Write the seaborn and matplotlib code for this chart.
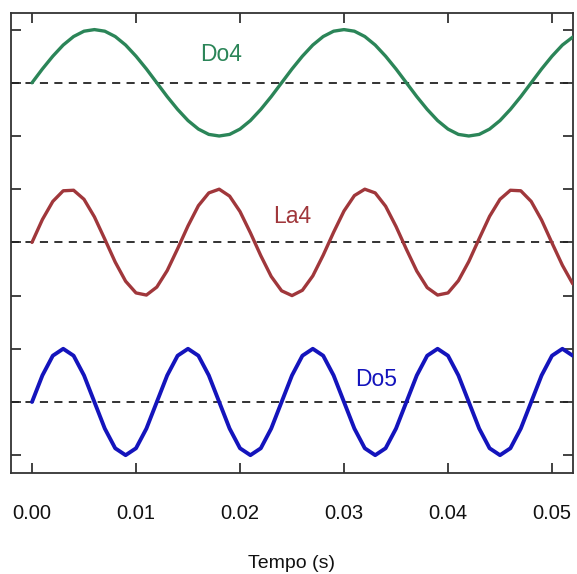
import numpy as np
import pandas as pd
import matplotlib
matplotlib.use("Agg")
import matplotlib.pyplot as plt
import seaborn as sns

# ---- data ----
notes = ["Do4", "La4", "Do5"]
offsets = [6, 3, 0]
time_s = np.linspace(0.0, 0.052, 53)  # sample times (1 ms step)

do4 = [0, .26, .5, .71, .87, .97, 1, .97, .87, .71, .5, .26,
       0, -.26, -.5, -.71, -.87, -.97, -1, -.97, -.87, -.71, -.5, -.26,
       0, .26, .5, .71, .87, .97, 1, .97, .87, .71, .5, .26,
       0, -.26, -.5, -.71, -.87, -.97, -1, -.97, -.87, -.71, -.5, -.26,
       0, .26, .5, .71, .86]
la4 = [0, .43, .77, .97, .98, .81, .48, .06, -.37, -.73, -.95, -.99, -.84,
       -.53, -.12, .31, .69, .93, 1.0, .87, .58, .18, -.25, -.64, -.91, -1.0,
       -.90, -.63, -.24, .19, .59, .88, 1.0, .93, .68, .30, -.13, -.54, -.85,
       -.99, -.95, -.72, -.36, .07, .49, .81, .98, .97, .77, .42, -.01, -.43, -.78]
do5 = [0, .5, .87, 1, .87, .5, 0, -.5, -.87, -1, -.87, -.5,
       0, .5, .87, 1, .87, .5, 0, -.5, -.87, -1, -.87, -.5,
       0, .5, .87, 1, .87, .5, 0, -.5, -.87, -1, -.87, -.5,
       0, .5, .87, 1, .87, .5, 0, -.5, -.87, -1, -.87, -.5,
       0, .5, .87, 1, .87]
xticks = [0.00, 0.01, 0.02, 0.03, 0.04, 0.05]
xlabel = "Tempo (s)"

colors = {"Do4": "#2b8558", "La4": "#a0373b", "Do5": "#1414bc"}
label_pos = {"Do4": (0.0182, 6.53), "La4": (0.0250, 3.49), "Do5": (0.0331, 0.43)}

frames = []
for name, vals, off in zip(notes, [do4, la4, do5], offsets):
    frames.append(pd.DataFrame({"t": time_s, "y": np.array(vals) + off, "note": name}))
df = pd.concat(frames, ignore_index=True)

sns.set_style("ticks")
plt.rcParams["font.family"] = ["Liberation Sans", "DejaVu Sans"]

fig = plt.figure(figsize=(5.77, 5.74), dpi=100)
ax = fig.add_axes([11 / 577, 1 - 473 / 574, (573 - 11) / 577, (473 - 13) / 574])

for off in offsets:
    ax.axhline(off, color="#222222", lw=1.3, ls=(0, (4.5, 3.5)), zorder=1)

sns.lineplot(data=df, x="t", y="y", hue="note", palette=colors, ax=ax,
             legend=False, linewidth=2.6, estimator=None, sort=False, zorder=3)

lw = {"Do4": 2.4, "La4": 2.4, "Do5": 2.8}
for line, name in zip(ax.lines[len(offsets):], notes):
    line.set_linewidth(lw[name])

for name in notes:
    x, y = label_pos[name]
    ax.text(x, y, name, color=colors[name], fontsize=16.5, ha="center", va="center")

ax.set_xlim(-0.00202, 0.05202)
ax.set_ylim(-1.335, 7.312)
ax.set_xticks(xticks)
ax.set_xticklabels([f"{v:.2f}" for v in xticks])
ax.set_yticks(range(-1, 8))
ax.tick_params(direction="in", length=7, width=1.3, top=True, right=True,
               labelleft=False, labelsize=14.5, pad=22.5, colors="#333333",
               labelcolor="#111111")
ax.set_xlabel(xlabel, fontsize=14, labelpad=23, color="#111111")
ax.set_ylabel("")
for s in ax.spines.values():
    s.set_linewidth(1.3)
    s.set_color("#333333")

fig.savefig("out.png", dpi=100, facecolor="white")
